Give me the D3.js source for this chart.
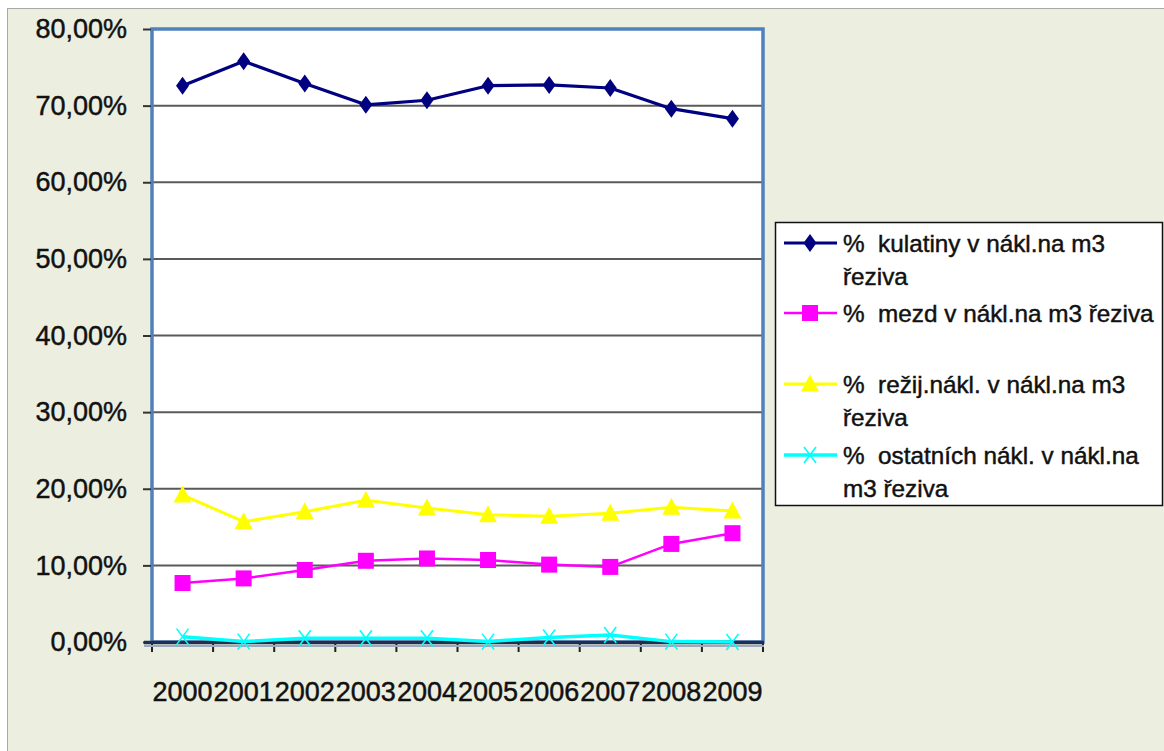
<!DOCTYPE html>
<html>
<head>
<meta charset="utf-8">
<script src="https://cdn.jsdelivr.net/npm/d3@7"></script>
<style>
  html, body { margin: 0; padding: 0; background: #ffffff; }
  svg { display: block; }
  text { font-family: "Liberation Sans", Arial, sans-serif; fill: #111; stroke: #111; stroke-width: 0.45px; }
</style>
</head>
<body>
<svg id="chart" width="1164" height="751"></svg>
<script>
// Years on the category axis
const years = ["2000", "2001", "2002", "2003", "2004", "2005", "2006", "2007", "2008", "2009"];

// Cost shares per m3 of sawn timber (fractions)
const kulatiny = [0.726, 0.758, 0.729, 0.701, 0.707, 0.726, 0.727, 0.723, 0.696, 0.683];
const mezd     = [0.077, 0.083, 0.094, 0.106, 0.109, 0.107, 0.101, 0.098, 0.128, 0.142];
const rezij    = [0.192, 0.157, 0.170, 0.185, 0.175, 0.166, 0.164, 0.168, 0.176, 0.171];
const ostatni  = [0.007, 0.0005, 0.005, 0.005, 0.005, 0.0005, 0.006, 0.009, 0.0005, 0.0];

// Value axis ticks
const yTicks = [0, 0.1, 0.2, 0.3, 0.4, 0.5, 0.6, 0.7, 0.8];

// Legend labels (each is one or two lines)
const seriesNames = [
  ["%  kulatiny v nákl.na m3", "řeziva"],
  ["%  mezd v nákl.na m3 řeziva"],
  ["%  režij.nákl. v nákl.na m3", "řeziva"],
  ["%  ostatních nákl. v nákl.na", "m3 řeziva"]
];

const series = [
  { values: kulatiny, color: "#000080", width: 3.2, marker: "diamond" },
  { values: mezd,     color: "#FF00FF", width: 2.5, marker: "square" },
  { values: rezij,    color: "#FFFF00", width: 3,   marker: "triangle" },
  { values: ostatni,  color: "#00FFFF", width: 3.5, marker: "cross" }
];

const czech = d3.formatLocale({ decimal: ",", thousands: " ", grouping: [3], currency: ["", " Kč"] });
const pct = czech.format(".2%");

const svg = d3.select("#chart");

// Chart area
svg.append("rect")
  .attr("x", 7.5).attr("y", 8.5).attr("width", 1170).attr("height", 760)
  .attr("fill", "#ECEEDF").attr("stroke", "#A8A8A8").attr("stroke-width", 1);

const plot = { left: 152, right: 763, top: 29, bottom: 642 };

const x = d3.scaleBand().domain(years).range([plot.left, plot.right]).padding(0);
const y = d3.scaleLinear().domain([0, 0.8]).range([plot.bottom, plot.top]);

// Plot background
svg.append("rect")
  .attr("x", plot.left).attr("y", plot.top)
  .attr("width", plot.right - plot.left).attr("height", plot.bottom - plot.top)
  .attr("fill", "#ffffff");

// Gridlines
svg.append("g")
  .selectAll("line")
  .data(yTicks.filter(t => t > 0 && t < 0.8))
  .join("line")
  .attr("x1", plot.left).attr("x2", plot.right)
  .attr("y1", d => y(d)).attr("y2", d => y(d))
  .attr("stroke", "#5a5a5a").attr("stroke-width", 2);

// Plot border
svg.append("rect")
  .attr("x", plot.left).attr("y", plot.top)
  .attr("width", plot.right - plot.left).attr("height", plot.bottom - plot.top)
  .attr("fill", "none").attr("stroke", "#4F81BD").attr("stroke-width", 3.5);

// Value axis
const yAxis = svg.append("g")
  .attr("transform", `translate(${plot.left - 1},0)`)
  .call(d3.axisLeft(y).tickValues(yTicks).tickFormat(pct).tickSize(8).tickPadding(16));
yAxis.select(".domain").remove();
yAxis.selectAll(".tick line").attr("stroke", "#333").attr("stroke-width", 2);
yAxis.selectAll(".tick text")
  .attr("font-size", 27).attr("fill", "#111")
  .style("font-family", "'Liberation Sans', Arial, sans-serif");

// Category axis
const xAxis = svg.append("g")
  .attr("transform", `translate(0,${plot.bottom})`)
  .call(d3.axisBottom(x).tickSize(0).tickPadding(40));
xAxis.select(".domain").remove();
xAxis.selectAll(".tick text")
  .attr("font-size", 27).attr("fill", "#111")
  .style("font-family", "'Liberation Sans', Arial, sans-serif");

// Category boundary ticks
const bounds = years.map(d => x(d)).concat([x(years[years.length - 1]) + x.bandwidth()]);
svg.append("g")
  .selectAll("line")
  .data(bounds)
  .join("line")
  .attr("x1", d => d).attr("x2", d => d)
  .attr("y1", plot.bottom).attr("y2", plot.bottom + 10)
  .attr("stroke", "#222").attr("stroke-width", 2);

// Axis line along zero
svg.append("line")
  .attr("x1", plot.left - 8).attr("x2", plot.right + 1)
  .attr("y1", plot.bottom + 4).attr("y2", plot.bottom + 4)
  .attr("stroke", "#9AAAC0").attr("stroke-width", 2);
svg.append("line")
  .attr("x1", plot.left - 8).attr("x2", plot.right + 1)
  .attr("y1", plot.bottom + 0.5).attr("y2", plot.bottom + 0.5)
  .attr("stroke", "#1F2F4F").attr("stroke-width", 3.5);

// Marker shapes
function drawMarker(g, type, color, cx, cy) {
  if (type === "diamond") {
    g.append("path")
      .attr("d", `M${cx},${cy - 9} L${cx + 6.5},${cy} L${cx},${cy + 9} L${cx - 6.5},${cy} Z`)
      .attr("fill", color);
  } else if (type === "square") {
    g.append("rect")
      .attr("x", cx - 8).attr("y", cy - 8).attr("width", 16).attr("height", 16)
      .attr("fill", color);
  } else if (type === "triangle") {
    g.append("path")
      .attr("d", `M${cx},${cy - 9.5} L${cx + 9},${cy + 7.5} L${cx - 9},${cy + 7.5} Z`)
      .attr("fill", color);
  } else if (type === "cross") {
    g.append("path")
      .attr("d", `M${cx - 6},${cy - 8} L${cx + 6},${cy + 8} M${cx + 6},${cy - 8} L${cx - 6},${cy + 8}`)
      .attr("stroke", color).attr("stroke-width", 1.6).attr("fill", "none");
  }
}

const line = d3.line()
  .x((d, i) => x(years[i]) + x.bandwidth() / 2)
  .y(d => y(d));

// Series lines and markers (drawn from the back)
series.slice().reverse().forEach(s => {
  const g = svg.append("g");
  g.append("path")
    .attr("d", line(s.values))
    .attr("fill", "none").attr("stroke", s.color)
    .attr("stroke-width", s.width).attr("stroke-linejoin", "round");
  s.values.forEach((v, i) => {
    drawMarker(g, s.marker, s.color, x(years[i]) + x.bandwidth() / 2, y(v));
  });
});

// Legend
const legend = svg.append("g");
legend.append("rect")
  .attr("x", 775.5).attr("y", 222.5).attr("width", 387).attr("height", 283)
  .attr("fill", "#ffffff").attr("stroke", "#111").attr("stroke-width", 1.5);

const entryY = [243, 313, 384, 455];
const lineGap = 33;
series.forEach((s, i) => {
  const cy = entryY[i];
  legend.append("line")
    .attr("x1", 784).attr("x2", 837).attr("y1", cy).attr("y2", cy)
    .attr("stroke", s.color).attr("stroke-width", s.width);
  drawMarker(legend, s.marker, s.color, 810, cy);
  seriesNames[i].forEach((txt, j) => {
    legend.append("text")
      .attr("x", 843).attr("y", cy + j * lineGap + 8.5)
      .attr("font-size", 24.3)
      .attr("fill", "#111")
      .style("white-space", "pre")
      .attr("xml:space", "preserve")
      .text(txt);
  });
});
</script>
</body>
</html>
